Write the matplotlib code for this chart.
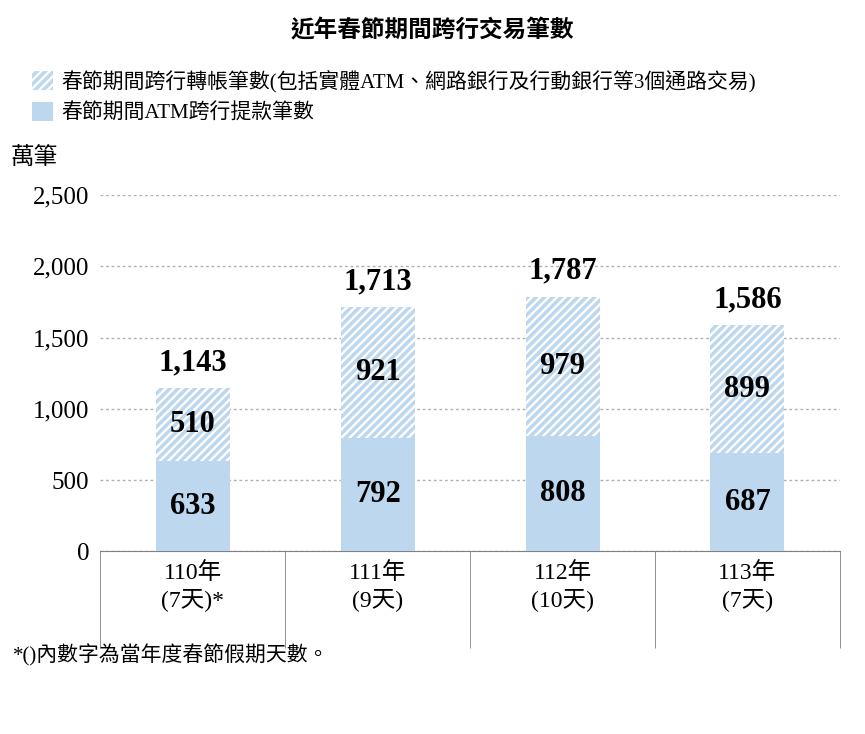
import matplotlib
matplotlib.use("Agg")
import matplotlib.pyplot as plt
import numpy as np

plt.rcParams['font.family'] = ['Liberation Serif', 'Noto Sans CJK TC', 'DejaVu Sans']
plt.rcParams['hatch.linewidth'] = 2.5

categories = ["110年\n(7天)*", "111年\n(9天)", "112年\n(10天)", "113年\n(7天)"]
atm = [633, 792, 808, 687]
transfer = [510, 921, 979, 899]
totals = [1143, 1713, 1787, 1586]

BLUE = "#BDD7EE"

fig = plt.figure(figsize=(8.65, 7.34), dpi=100)
ax = fig.add_axes([0.116, 0.249, 0.855, 0.485])
x = np.arange(len(categories))
w = 0.4
ax.bar(x, atm, w, color=BLUE, label="春節期間ATM跨行提款筆數", zorder=3)
ax.bar(x, transfer, w, bottom=atm, color="white", edgecolor=BLUE, hatch="////",
       linewidth=0, label="春節期間跨行轉帳筆數(包括實體ATM、網路銀行及行動銀行等3個通路交易)", zorder=3)

for i in range(len(x)):
    ax.text(x[i], atm[i] / 2, f"{atm[i]:,}", ha="center", va="center",
            fontsize=22, fontweight="bold", zorder=4)
    ax.text(x[i], atm[i] + transfer[i] / 2, f"{transfer[i]:,}", ha="center", va="center",
            fontsize=22, fontweight="bold", zorder=4)
    ax.text(x[i], totals[i] + 80, f"{totals[i]:,}", ha="center", va="bottom",
            fontsize=22, fontweight="bold", zorder=4)

ax.set_xlim(-0.5, len(x) - 0.5)
ax.set_ylim(0, 2500)
ax.set_yticks(range(0, 2501, 500))
ax.set_yticklabels([f"{v:,}" for v in range(0, 2501, 500)], fontsize=18)
ax.set_xticks(x)
ax.set_xticklabels(categories, fontsize=17)
ax.tick_params(axis="x", length=0, pad=8)
ax.tick_params(axis="y", length=0, pad=8)
ax.set_xticks(np.arange(-0.5, len(x), 1.0), minor=True)
ax.tick_params(axis="x", which="minor", length=70, color="#808080")
ax.yaxis.grid(True, linestyle=(0, (2, 2)), color="#b0b0b0", linewidth=1, zorder=0)
for s in ["top", "right", "left"]:
    ax.spines[s].set_visible(False)
ax.spines["bottom"].set_color("#808080")

h, l = ax.get_legend_handles_labels()
fig.legend(h[::-1], l[::-1], loc="upper left", bbox_to_anchor=(0.015, 0.93), frameon=False,
           fontsize=15, handlelength=1.0, handleheight=1.0, handletextpad=0.4, labelspacing=0.45)

fig.text(0.5, 0.958, "近年春節期間跨行交易筆數", ha="center", va="center", fontsize=17, fontweight="bold")
fig.text(0.012, 0.785, "萬筆", ha="left", va="center", fontsize=17)
fig.text(0.015, 0.107, "*()內數字為當年度春節假期天數。", ha="left", va="center", fontsize=15)

fig.savefig("out.png", dpi=100)
